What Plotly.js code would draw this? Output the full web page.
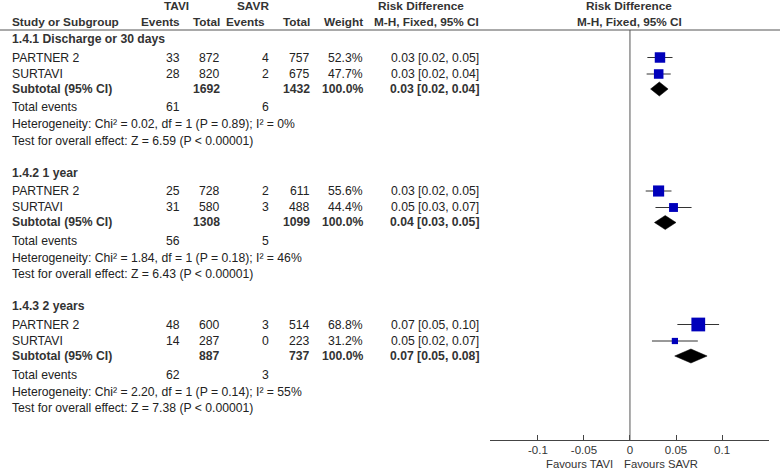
<!DOCTYPE html>
<html>
<head>
<meta charset="utf-8">
<script src="https://cdn.plot.ly/plotly-3.0.1.min.js"></script>
<style>html,body{margin:0;padding:0;background:#fff;}#chart{width:780px;height:470px;}</style>
</head>
<body>
<div id="chart"></div>
<script>
// ---- data ----
const groupNames = ["1.4.1 Discharge or 30 days", "1.4.2 1 year", "1.4.3 2 years"];
const studyNames = ["PARTNER 2", "SURTAVI"];
const taviEvents = [[33, 28], [25, 31], [48, 14]];
const taviTotal  = [[872, 820], [728, 580], [600, 287]];
const savrEvents = [[4, 2], [2, 3], [3, 0]];
const savrTotal  = [[757, 675], [611, 488], [514, 223]];
const weights    = [[52.3, 47.7], [55.6, 44.4], [68.8, 31.2]];
const rd         = [[0.0326, 0.0312], [0.0311, 0.0473], [0.0742, 0.0488]];
const ciLow      = [[0.0189, 0.0181], [0.0171, 0.0277], [0.0515, 0.0239]];
const ciHigh     = [[0.0462, 0.0443], [0.0451, 0.0669], [0.0968, 0.0737]];
const estLabels  = [["0.03 [0.02, 0.05]", "0.03 [0.02, 0.04]"],
                    ["0.03 [0.02, 0.05]", "0.05 [0.03, 0.07]"],
                    ["0.07 [0.05, 0.10]", "0.05 [0.02, 0.07]"]];
const subTaviTotal = [1692, 1308, 887];
const subSavrTotal = [1432, 1099, 737];
const subRd    = [0.0319, 0.0383, 0.0662];
const subLow   = [0.0224, 0.0266, 0.0486];
const subHigh  = [0.0414, 0.0500, 0.0838];
const subLabels = ["0.03 [0.02, 0.04]", "0.04 [0.03, 0.05]", "0.07 [0.05, 0.08]"];
const totTaviEvents = [61, 56, 62];
const totSavrEvents = [6, 5, 3];
const chi2 = ["0.02", "1.84", "2.20"];
const pHet = ["0.89", "0.18", "0.14"];
const i2   = [0, 46, 55];
const zVal = ["6.59", "6.43", "7.38"];
const tickVals = [-0.1, -0.05, 0, 0.05, 0.1];
const tickText = ["-0.1", "-0.05", "0", "0.05", "0.1"];

// ---- layout helpers ----
const W = 780, H = 470;
const FONT = "Liberation Sans, Arial, sans-serif";
const TXT = "#222";
const FS = 12.2;
const HFS = 11.8;
const rowOff = [0, 18.5, 35, 50, 68.5, 85.5, 101.5];
const groupStart = g => 39 + g * 133.5;
const annotations = [];
function txt(text, xp, yp, anchor, bold, color, size) {
  annotations.push({
    text: bold ? "<b>" + text + "</b>" : text,
    x: xp / W, y: 1 - yp / H, xref: "paper", yref: "paper",
    xanchor: anchor, yanchor: "middle", showarrow: false,
    font: {family: FONT, size: size || FS, color: color || TXT}, borderpad: 0
  });
}
const col = {study: 11, tEv: 181, tTot: 221, sEv: 270, sTot: 311, wt: 364, ci: 480};

// headers
txt("TAVI", 176, 6, "center", true, "#333", HFS);
txt("SAVR", 253, 6, "center", true, "#333", HFS);
txt("Risk Difference", 421, 6, "center", true, "#333", HFS);
txt("Risk Difference", 629, 6, "center", true, "#333", HFS);
txt("Study or Subgroup", col.study, 22, "left", true, "#333", HFS);
txt("Events", col.tEv, 22, "right", true, "#333", HFS);
txt("Total", col.tTot, 22, "right", true, "#333", HFS);
txt("Events", col.sEv - 4, 22, "right", true, "#333", HFS);
txt("Total", col.sTot, 22, "right", true, "#333", HFS);
txt("Weight", col.wt, 22, "right", true, "#333", HFS);
txt("M-H, Fixed, 95% CI", col.ci, 22, "right", true, "#333", HFS);
txt("M-H, Fixed, 95% CI", 629, 22, "center", true, "#333", HFS);

const traces = [];
for (let g = 0; g < groupNames.length; g++) {
  const y0 = groupStart(g);
  txt(groupNames[g], col.study, y0 + rowOff[0], "left", true, "#333");
  for (let s = 0; s < studyNames.length; s++) {
    const y = y0 + rowOff[1 + s];
    txt(studyNames[s], col.study, y, "left");
    txt(String(taviEvents[g][s]), col.tEv, y, "right");
    txt(String(taviTotal[g][s]), col.tTot, y, "right");
    txt(String(savrEvents[g][s]), col.sEv, y, "right");
    txt(String(savrTotal[g][s]), col.sTot, y, "right");
    txt(weights[g][s].toFixed(1) + "%", col.wt, y, "right");
    txt(estLabels[g][s], col.ci, y, "right");
    // CI line
    traces.push({x: [ciLow[g][s], ciHigh[g][s]], y: [y, y], mode: "lines",
      line: {color: "#333", width: 1}, hoverinfo: "skip"});
    // square
    traces.push({x: [rd[g][s]], y: [y], mode: "markers",
      marker: {symbol: "square", size: weights[g][s] * 0.2, color: "#0000BB",
               line: {width: 0}}, hoverinfo: "skip"});
  }
  const ys = y0 + rowOff[3];
  txt("Subtotal (95% CI)", col.study, ys, "left", true, "#333");
  txt(String(subTaviTotal[g]), col.tTot, ys, "right", true, "#333");
  txt(String(subSavrTotal[g]), col.sTot, ys, "right", true, "#333");
  txt("100.0%", col.wt, ys, "right", true, "#333");
  txt(subLabels[g], col.ci, ys, "right", true, "#333");
  traces.push({x: [subLow[g], subRd[g], subHigh[g], subRd[g], subLow[g]],
    y: [ys, ys - 7, ys, ys + 7, ys], mode: "lines", fill: "toself",
    fillcolor: "#000", line: {color: "#000", width: 0.5}, hoverinfo: "skip"});
  const yt = y0 + rowOff[4];
  txt("Total events", col.study, yt, "left");
  txt(String(totTaviEvents[g]), col.tEv, yt, "right");
  txt(String(totSavrEvents[g]), col.sEv, yt, "right");
  txt("Heterogeneity: Chi² = " + chi2[g] + ", df = 1 (P = " + pHet[g] + "); I² = " + i2[g] + "%",
      col.study, y0 + rowOff[5], "left");
  txt("Test for overall effect: Z = " + zVal[g] + " (P < 0.00001)", col.study, y0 + rowOff[6], "left");
}

// axis labels
txt("Favours TAVI", 614, 464, "right", false, "#333", 11.3);
txt("Favours SAVR", 623, 464, "left", false, "#333", 11.3);

const layout = {
  width: W, height: H, margin: {l: 0, r: 0, t: 0, b: 0},
  paper_bgcolor: "#fff", plot_bgcolor: "rgba(0,0,0,0)", showlegend: false,
  xaxis: {domain: [490 / W, 769 / W], range: [-0.152, 0.151], tickvals: tickVals, ticktext: tickText,
    showgrid: false, zeroline: false, showline: true, linecolor: "#444", linewidth: 1,
    ticks: "inside", ticklen: 5, tickcolor: "#444", tickfont: {family: FONT, size: 11.5, color: "#333"},
    ticklabelstandoff: -1, fixedrange: true},
  yaxis: {domain: [30 / H, 1], range: [440, 0], visible: false, fixedrange: true},
  shapes: [
    {type: "line", xref: "paper", yref: "y", x0: 0, x1: 1, y0: 30, y1: 30, line: {color: "#555", width: 1}},
    {type: "line", xref: "x", yref: "y", x0: 0, x1: 0, y0: 30, y1: 440, line: {color: "#555", width: 1}}
  ],
  annotations: annotations
};
Plotly.newPlot("chart", traces, layout, {staticPlot: true, displayModeBar: false});
</script>
</body>
</html>
